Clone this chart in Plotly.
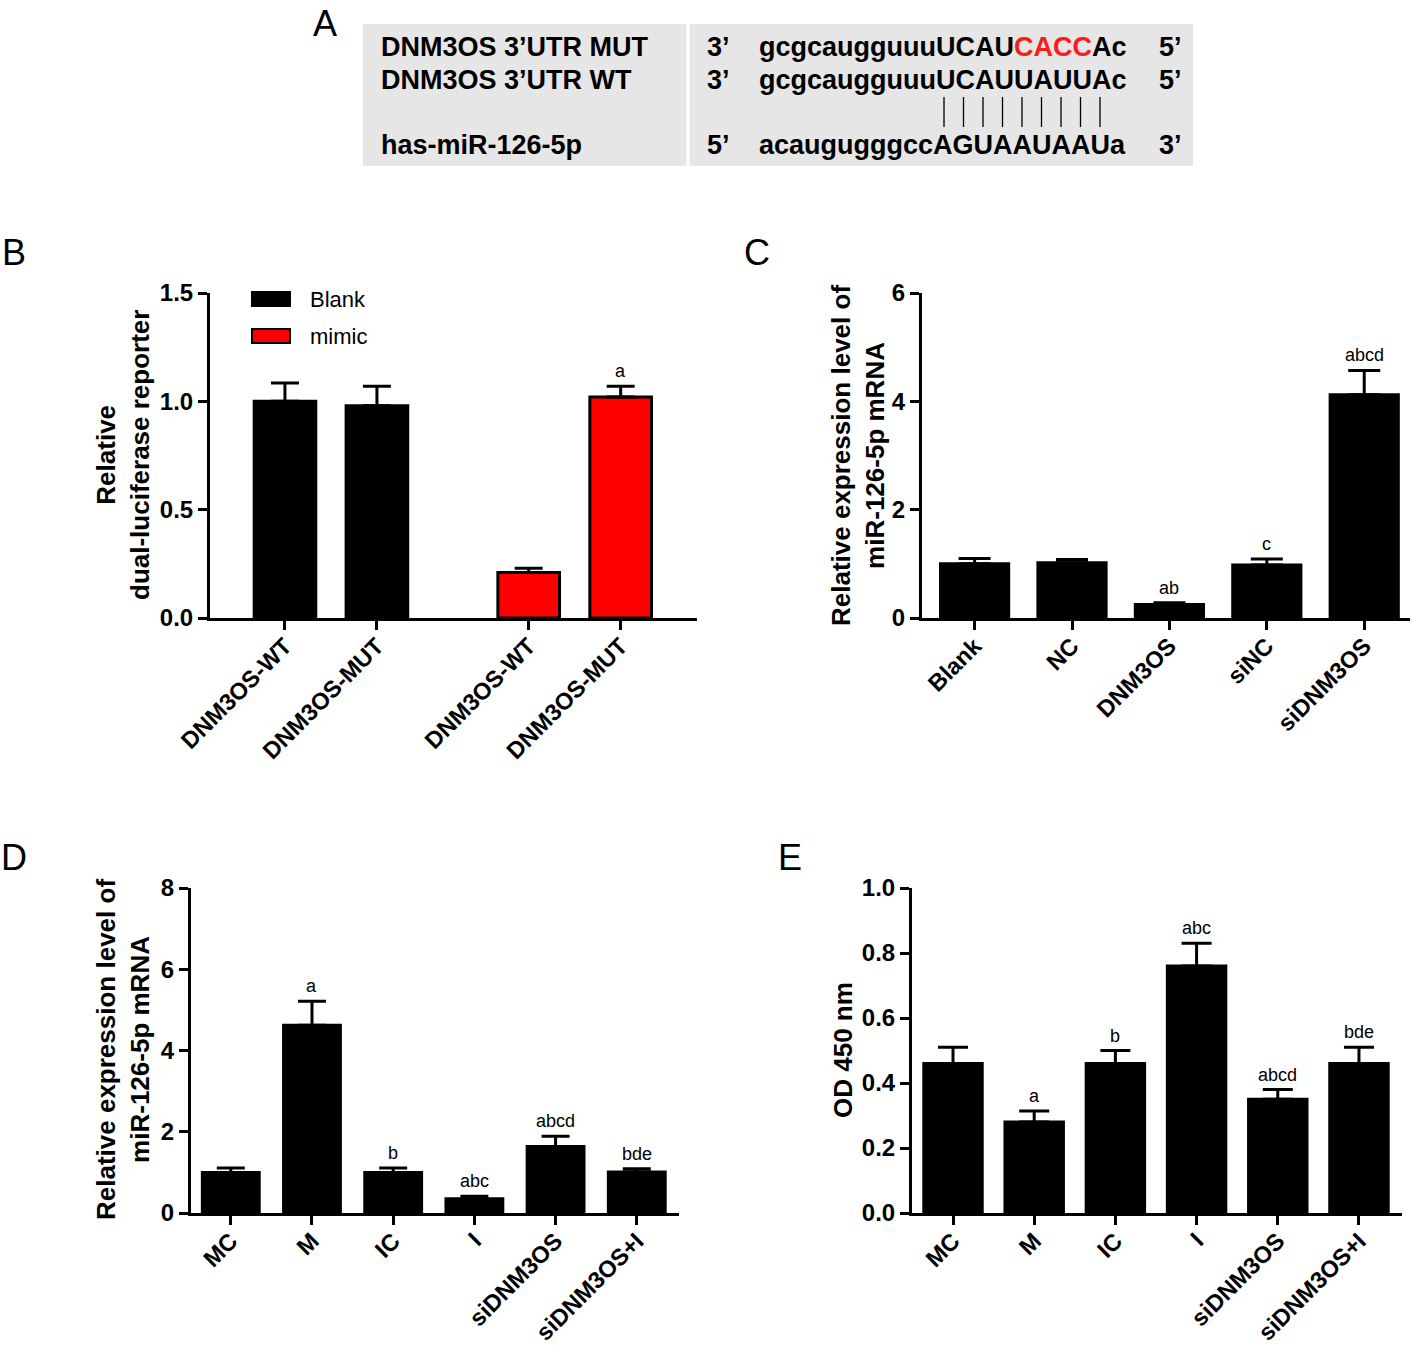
import plotly.graph_objects as go

W, H = 1418, 1346
FONT = "Liberation Sans, Arial, sans-serif"

# ---------------- Panel A: sequence alignment ----------------
a_row_labels = ["DNM3OS 3’UTR MUT", "DNM3OS 3’UTR WT", "has-miR-126-5p"]
a_left_ends = ["3’", "3’", "5’"]
a_seqs = ['gcgcaugguuuUCAU<span style="color:#ff1a1a">CACC</span>Ac',
          "gcgcaugguuuUCAUUAUUAc",
          "acaugugggccAGUAAUAAUa"]
a_right_ends = ["5’", "5’", "3’"]
a_n_pairs = 9

# ---------------- Panel B: dual-luciferase ----------------
b_labels = ["DNM3OS-WT", "DNM3OS-MUT"]
b_groups = ["Blank", "mimic"]
b_means = [[1.00, 0.98], [0.21, 1.02]]
b_errs = [[0.085, 0.09], [0.02, 0.05]]
b_sig = [["", ""], ["", "a"]]
b_colors = ["#000000", "#ff0000"]

# ---------------- Panel C ----------------
c_labels = ["Blank", "NC", "DNM3OS", "siNC", "siDNM3OS"]
c_mean = [1.00, 1.02, 0.25, 0.98, 4.12]
c_err = [0.10, 0.06, 0.03, 0.11, 0.45]
c_sig = ["", "", "ab", "c", "abcd"]

# ---------------- Panel D ----------------
d_labels = ["MC", "M", "IC", "I", "siDNM3OS", "siDNM3OS+I"]
d_mean = [1.00, 4.62, 1.00, 0.35, 1.64, 1.01]
d_err = [0.11, 0.59, 0.11, 0.06, 0.25, 0.08]
d_sig = ["", "a", "b", "abc", "abcd", "bde"]

# ---------------- Panel E ----------------
e_labels = ["MC", "M", "IC", "I", "siDNM3OS", "siDNM3OS+I"]
e_mean = [0.46, 0.28, 0.46, 0.76, 0.35, 0.46]
e_err = [0.05, 0.034, 0.04, 0.07, 0.03, 0.05]
e_sig = ["", "a", "b", "abc", "abcd", "bde"]


def px(x):
    return x / W


def py(y):
    return 1 - y / H


fig = go.Figure()
annotations = []
shapes = []


def err_dict(err, hw):
    return dict(type="data", array=err, arrayminus=[0] * len(err), symmetric=False,
                color="black", thickness=3, width=hw)


def add_sig(xs, means, errs, sigs, xref, yref):
    for x, m, e, s in zip(xs, means, errs, sigs):
        if s:
            annotations.append(dict(x=x, y=m + e, xref=xref, yref=yref, text=s,
                                    showarrow=False, yanchor="bottom", yshift=3,
                                    font=dict(size=18, color="black", family=FONT)))


# Panel B traces (two groups separated by a gap)
group_gap = 0.65
b_positions = []
for g in range(len(b_groups)):
    pos = [g * (len(b_labels) + group_gap) + i for i in range(len(b_labels))]
    b_positions.append(pos)
    fig.add_trace(go.Bar(x=pos, y=b_means[g], name=b_groups[g], width=0.67,
                         marker=dict(color=b_colors[g], line=dict(color="black", width=3)),
                         error_y=err_dict(b_errs[g], 14), xaxis="x", yaxis="y",
                         showlegend=False))
    add_sig(pos, b_means[g], b_errs[g], b_sig[g], "x", "y")

# Panel C
fig.add_trace(go.Bar(x=c_labels, y=c_mean, width=0.7, showlegend=False,
                     marker=dict(color="black", line=dict(color="black", width=3)),
                     error_y=err_dict(c_err, 16), xaxis="x2", yaxis="y2"))
add_sig(c_labels, c_mean, c_err, c_sig, "x2", "y2")

# Panel D
fig.add_trace(go.Bar(x=d_labels, y=d_mean, width=0.7, showlegend=False,
                     marker=dict(color="black", line=dict(color="black", width=3)),
                     error_y=err_dict(d_err, 14), xaxis="x3", yaxis="y3"))
add_sig(d_labels, d_mean, d_err, d_sig, "x3", "y3")

# Panel E
fig.add_trace(go.Bar(x=e_labels, y=e_mean, width=0.72, showlegend=False,
                     marker=dict(color="black", line=dict(color="black", width=3)),
                     error_y=err_dict(e_err, 15), xaxis="x4", yaxis="y4"))
add_sig(e_labels, e_mean, e_err, e_sig, "x4", "y4")

ytickfont = dict(family=FONT, size=24, color="black", weight="bold")
xtickfont = dict(family=FONT, size=23.5, color="black", weight="bold")
common_x = dict(showline=True, linewidth=3, linecolor="black", ticks="outside",
                ticklen=9, tickwidth=3, tickcolor="black", showgrid=False,
                zeroline=False, tickangle=-45, tickfont=xtickfont, fixedrange=True,
                automargin=False, ticklabelstandoff=-7)
common_y = dict(showline=True, linewidth=3, linecolor="black", ticks="outside",
                ticklen=9, tickwidth=3, tickcolor="black", showgrid=False,
                zeroline=False, tickfont=ytickfont, fixedrange=True, automargin=False)

flat_pos = [p for grp in b_positions for p in grp]
flat_lab = [l for _ in b_groups for l in b_labels]

fig.update_layout(
    width=W, height=H, margin=dict(l=0, r=0, t=0, b=0, autoexpand=False),
    paper_bgcolor="white", plot_bgcolor="white",
    font=dict(family=FONT, color="black"),
    xaxis=dict(common_x, domain=[px(210), px(697)], anchor="y", range=[-0.815, 4.48],
               tickmode="array", tickvals=flat_pos, ticktext=flat_lab),
    yaxis=dict(common_y, domain=[py(618), py(293)], anchor="x", range=[0, 1.5],
               tickvals=[0, 0.5, 1.0, 1.5], tickformat=".1f"),
    xaxis2=dict(common_x, domain=[px(922), px(1410)], anchor="y2", range=[-0.54, 4.47]),
    yaxis2=dict(common_y, domain=[py(618), py(293)], anchor="x2", range=[0, 6],
                tickvals=[0, 2, 4, 6]),
    xaxis3=dict(common_x, domain=[px(191), px(679)], anchor="y3", range=[-0.49, 5.52]),
    yaxis3=dict(common_y, domain=[py(1213), py(888)], anchor="x3", range=[0, 8],
                tickvals=[0, 2, 4, 6, 8]),
    xaxis4=dict(common_x, domain=[px(912), px(1402)], anchor="y4", range=[-0.505, 5.53]),
    yaxis4=dict(common_y, domain=[py(1213), py(888)], anchor="x4", range=[0, 1.0],
                tickvals=[0, 0.2, 0.4, 0.6, 0.8, 1.0], tickformat=".1f"),
)

# Panel A box
shapes.append(dict(type="rect", xref="paper", yref="paper", x0=px(363), x1=px(1193),
                   y0=py(166), y1=py(24), fillcolor="#e6e6e6", line=dict(width=0), layer="below"))
shapes.append(dict(type="line", xref="paper", yref="paper", x0=px(688), x1=px(688),
                   y0=py(166), y1=py(24), line=dict(color="white", width=3)))
row_y = [47, 80, 145]
fa = dict(family=FONT, size=27, color="black", weight="bold")
for lab, le, sq, re_, y in zip(a_row_labels, a_left_ends, a_seqs, a_right_ends, row_y):
    annotations.append(dict(x=px(379), y=py(y), xref="paper", yref="paper", text=lab,
                            showarrow=False, xanchor="left", yanchor="middle", font=fa))
    annotations.append(dict(x=px(705), y=py(y), xref="paper", yref="paper", text=le,
                            showarrow=False, xanchor="left", yanchor="middle", font=fa))
    annotations.append(dict(x=px(757), y=py(y), xref="paper", yref="paper", text=sq,
                            showarrow=False, xanchor="left", yanchor="middle", font=fa))
    annotations.append(dict(x=px(1157), y=py(y), xref="paper", yref="paper", text=re_,
                            showarrow=False, xanchor="left", yanchor="middle", font=fa))
for i in range(a_n_pairs):
    xx = 944 + i * 19.5
    shapes.append(dict(type="line", xref="paper", yref="paper", x0=px(xx), x1=px(xx),
                       y0=py(127), y1=py(97), line=dict(color="black", width=1.3)))

# Legend for panel B
for k, (name, col) in enumerate(zip(b_groups, b_colors)):
    y0, y1 = 292 + k * 37, 306 + k * 37
    shapes.append(dict(type="rect", xref="paper", yref="paper", x0=px(252), x1=px(290),
                       y0=py(y1), y1=py(y0), fillcolor=col, line=dict(color="black", width=2)))
    annotations.append(dict(x=px(308), y=py((y0 + y1) / 2), xref="paper", yref="paper",
                            text=name, showarrow=False, xanchor="left", yanchor="middle",
                            font=dict(family=FONT, size=22, color="black")))

# Axis titles
ft = dict(family=FONT, size=26, color="black", weight="bold")
titles = [("Relative<br>dual-luciferase reporter", 123, 455),
          ("Relative expression level of<br>miR-126-5p mRNA", 858, 455),
          ("Relative expression level of<br>miR-126-5p mRNA", 123, 1050),
          ("OD 450 nm", 843, 1050)]
for t, x, y in titles:
    annotations.append(dict(x=px(x), y=py(y), xref="paper", yref="paper", text=t,
                            textangle=-90, showarrow=False, xanchor="center",
                            yanchor="middle", font=ft))

# Panel letters
for t, x, y, anc in [("A", 325, 1, "top"), ("B", 14, 252, "middle"), ("C", 757, 252, "middle"),
                     ("D", 14, 858, "middle"), ("E", 790, 858, "middle")]:
    annotations.append(dict(x=px(x), y=py(y), xref="paper", yref="paper", text=t,
                            showarrow=False, xanchor="center", yanchor=anc,
                            font=dict(family=FONT, size=36, color="black")))

fig.update_layout(annotations=annotations, shapes=shapes)
fig.write_html("out.html", config={"displayModeBar": False},
               post_script="document.body.style.margin='0';")
